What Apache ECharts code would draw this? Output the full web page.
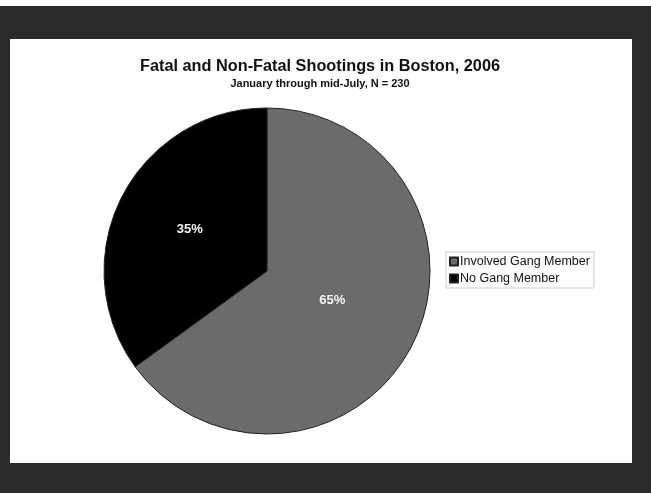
<!DOCTYPE html>
<html><head><meta charset="utf-8">
<script src="https://cdn.jsdelivr.net/npm/echarts@6/dist/echarts.min.js"></script>
<style>html,body{margin:0;padding:0;background:#2a2a2a;}#c{width:651px;height:493px;}</style>
</head><body><div id="c"></div>
<script>
const categories = ["Involved Gang Member", "No Gang Member"];
const values = [65, 35];
const colors = ["#6b6b6b", "#000000"];
const labelShift = [[-10, -9], [-2, -3]];

const chart = echarts.init(document.getElementById('c'));
chart.setOption({
  backgroundColor: '#2a2a2a',
  animation: false,
  graphic: [
    { type: 'rect', z: -10, shape: { x: 0, y: 0, width: 651, height: 6 }, style: { fill: '#ffffff' } },
    { type: 'rect', z: -10, shape: { x: 10, y: 39, width: 622, height: 424 }, style: { fill: '#ffffff' } }
  ],
  title: {
    text: 'Fatal and Non-Fatal Shootings in Boston, 2006',
    subtext: 'January through mid-July, N = 230',
    left: 315, top: 54, textAlign: 'center', itemGap: 3,
    textStyle: { fontFamily: 'Liberation Sans', fontWeight: 'bold', fontSize: 16.3, color: '#111' },
    subtextStyle: { fontFamily: 'Liberation Sans', fontWeight: 'bold', fontSize: 11, color: '#111' }
  },
  legend: {
    orient: 'vertical', left: 446, top: 252,
    data: categories,
    icon: 'rect', itemWidth: 8, itemHeight: 8, itemGap: 4,
    padding: [3, 4, 3, 3],
    borderColor: '#cccccc', borderWidth: 1,
    textStyle: { fontFamily: 'Liberation Sans', fontSize: 12.5, color: '#111', padding: [0, 0, 0, -3] }
  },
  series: [{
    type: 'pie',
    center: [267, 271],
    radius: 163,
    startAngle: 90,
    clockwise: true,
    label: {
      position: 'inside', formatter: '{d}%',
      fontFamily: 'Liberation Sans', fontWeight: 'bold', fontSize: 13, color: '#f4f4f4'
    },
    labelLayout: function (p) { const s = labelShift[p.dataIndex]; return { dx: s[0], dy: s[1] }; },
    labelLine: { show: false },
    itemStyle: { borderColor: '#222', borderWidth: 1 },
    emphasis: { disabled: true },
    data: categories.map((c, i) => ({ name: c, value: values[i], itemStyle: { color: colors[i] } }))
  }]
});
</script></body></html>
